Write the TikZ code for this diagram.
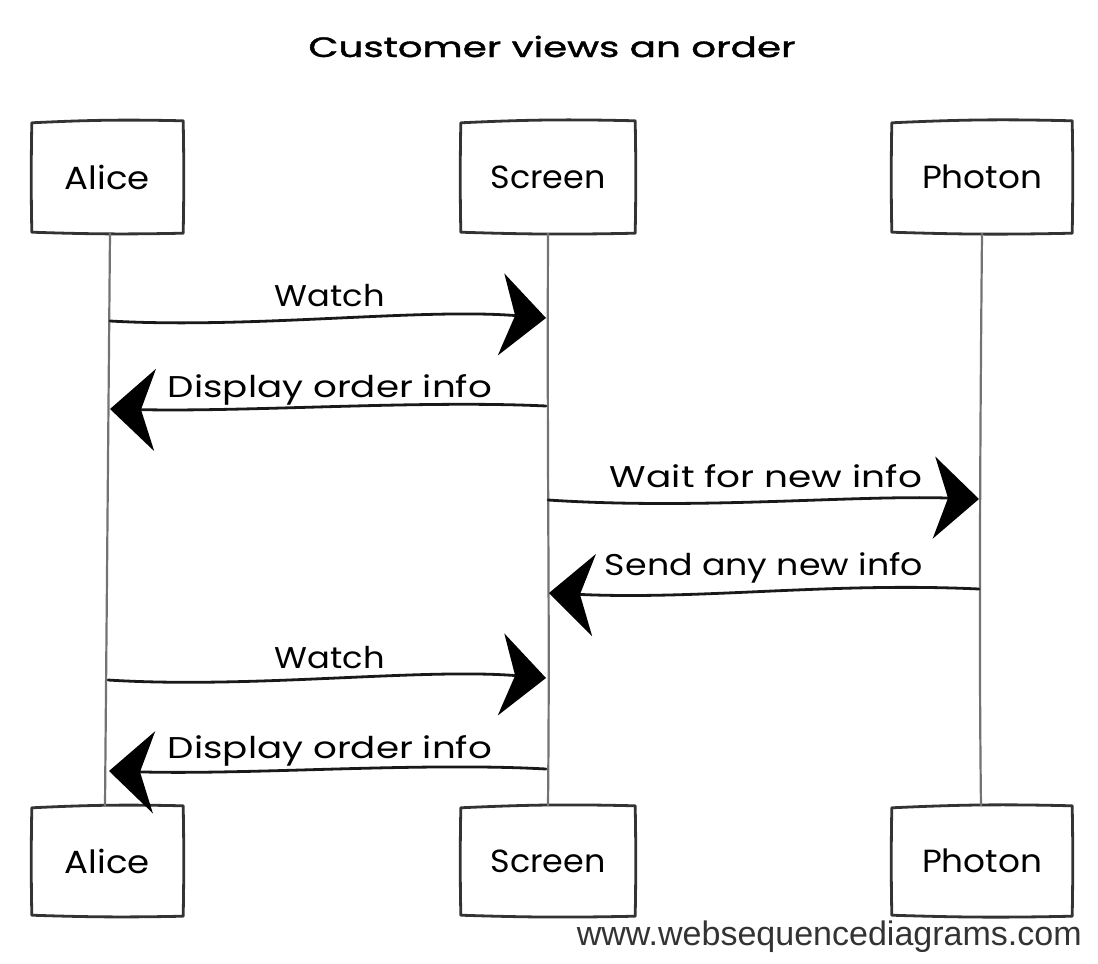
\documentclass[tikz,border=0pt]{standalone}
\usepackage{fontspec}
\usepackage{graphicx}
\setmainfont{Poppins}
\newfontfamily\titlefont[FakeBold=1.2]{Poppins}
\newfontfamily\footfont{Liberation Sans}
\usetikzlibrary{arrows.meta}
\newcommand\fitto[2]{\resizebox{#1}{\height}{#2}}
\newcommand\sketchrect[1]{%
  \draw[boxline] ([shift={(-1,1)}]#1.north west) to[bend left=2] ([shift={(1,-1)}]#1.north east)
    to[bend left=1] ([shift={(1,1)}]#1.south east) to[bend left=1.5] ([shift={(-1,0)}]#1.south west)
    to[bend left=1] ([shift={(-1,1)}]#1.north west);}
\tikzset{
  boxline/.style={line width=2.8pt, draw=black!80, line cap=round, line join=round},
  life/.style={line width=2.2pt, draw=black!55},
  msg/.style={line width=2.8pt, draw=black!90, line cap=round,
    -{Stealth[length=45pt,width=82pt,inset=14pt,color=black]}},
  actor/.style={inner sep=0pt, font=\fontsize{32}{38}\selectfont, text=black},
  lbl/.style={inner sep=0pt, anchor=base, font=\fontsize{30}{36}\selectfont, text=black},
}
\begin{document}
\begin{tikzpicture}[x=1pt,y=-1pt]
\useasboundingbox (0,0) rectangle (1098,964);
% title
\node[inner sep=0pt, anchor=base, font=\titlefont\fontsize{28}{34}\selectfont] (title) at (552,57) {\fitto{487pt}{Customer views an order}};
% actor boxes
\node[actor, minimum width=149pt, minimum height=110pt] (aT) at (107.5,177) {\fitto{85pt}{Alice}};
\node[actor, minimum width=172pt, minimum height=110pt] (sT) at (548,177) {\fitto{115pt}{Screen}};
\node[actor, minimum width=178pt, minimum height=110pt] (pT) at (982,177) {\fitto{120pt}{Photon}};
\node[actor, minimum width=149pt, minimum height=108pt] (aB) at (107.5,861) {\fitto{85pt}{Alice}};
\node[actor, minimum width=172pt, minimum height=108pt] (sB) at (548,861) {\fitto{115pt}{Screen}};
\node[actor, minimum width=178pt, minimum height=108pt] (pB) at (982,861) {\fitto{120pt}{Photon}};
\sketchrect{aT}\sketchrect{sT}\sketchrect{pT}
\sketchrect{aB}\sketchrect{sB}\sketchrect{pB}
% lifelines
\coordinate (aL1) at (110,233); \coordinate (aL2) at (105,806);
\coordinate (sL1) at (548,233); \coordinate (sL2) at (548,806);
\coordinate (pL1) at (982,233); \coordinate (pL2) at (981,806);
\draw[life] (aL1) -- (aL2);
\draw[life] (sL1) .. controls (547,500) and (550,600) .. (sL2);
\draw[life] (pL1) .. controls (980,450) and (979,650) .. (pL2);
% message end points
\coordinate (a1) at (110,321); \coordinate (s1) at (546,318);
\coordinate (s2) at (546,406); \coordinate (a2) at (110,409);
\coordinate (s3) at (548,500); \coordinate (p3) at (979,499);
\coordinate (p4) at (979,589); \coordinate (s4) at (549,593);
\coordinate (a5) at (108,680); \coordinate (s5) at (546,678);
\coordinate (s6) at (546,769); \coordinate (a6) at (109,771);
% messages
\draw[msg] (a1) .. controls (250,329) and (420,308) .. (s1);
\draw[msg] (s2) .. controls (420,400) and (250,412) .. (a2);
\draw[msg] (s3) .. controls (700,510) and (850,495) .. (p3);
\draw[msg] (p4) .. controls (830,582) and (700,600) .. (s4);
\draw[msg] (a5) .. controls (250,689) and (420,668) .. (s5);
\draw[msg] (s6) .. controls (420,762) and (250,775) .. (a6);
% labels
\node[lbl] (l1) at (330,306) {\fitto{110pt}{Watch}};
\node[lbl] (l2) at (330,397) {\fitto{324pt}{Display order info}};
\node[lbl] (l3) at (766,487) {\fitto{312pt}{Wait for new info}};
\node[lbl] (l4) at (764,575) {\fitto{318pt}{Send any new info}};
\node[lbl] (l5) at (330,668) {\fitto{110pt}{Watch}};
\node[lbl] (l6) at (330,758) {\fitto{324pt}{Display order info}};
% footer
\node[inner sep=0pt, anchor=base east, font=\footfont\fontsize{34}{40}\selectfont, text=black!80] (foot) at (1082,945) {\fitto{505pt}{www.websequencediagrams.com}};
\end{tikzpicture}
\end{document}
